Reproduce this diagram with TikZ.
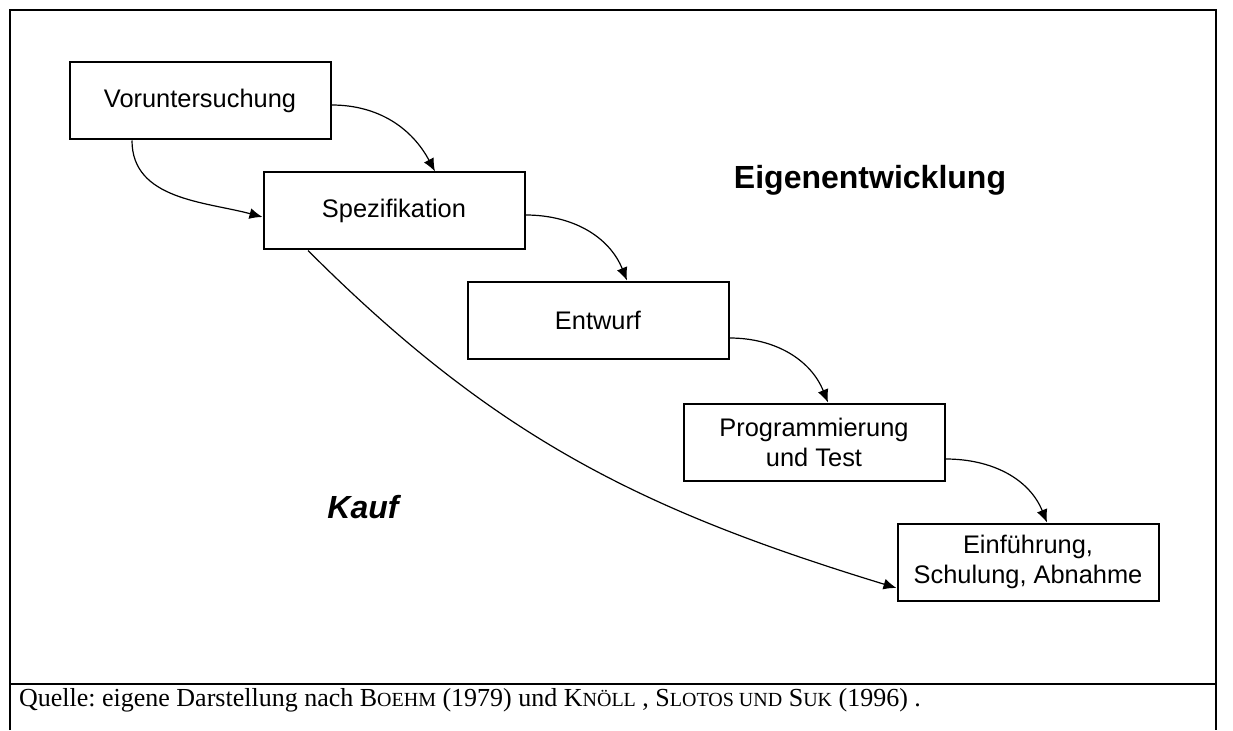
\documentclass[tikz,border=0pt]{standalone}
\usepackage{fontspec}
\setmainfont{Liberation Serif}
\setsansfont{Liberation Sans}
\usetikzlibrary{arrows.meta}
\usetikzlibrary{positioning}
\tikzset{
    phase/.style={
        draw,
        rectangle,
        fill=white,
        line width=1pt,
        minimum width=130.5pt,
        minimum height=38.5pt,
        inner sep=2pt,
        align=center,
        font=\sffamily\fontsize{12.7}{15}\selectfont
    },
    flow/.style={
        draw,
        line width=0.6pt,
        -{Latex[length=6.5pt, width=5.5pt]}
    }
}
\newcommand{\scname}[2]{#1{\fontsize{10}{12}\selectfont #2}}
\frenchspacing

\begin{document}
\begin{tikzpicture}[x=0.5pt, y=0.5pt]
  \tikzset{
    region/.style={
      font=\sffamily\bfseries\fontsize{16}{19}\selectfont
    },
    source/.style={
      anchor=west,
      font=\fontsize{13}{15}\selectfont
    }
  }
  \useasboundingbox (0,0) rectangle (1233,730);

  % outer frame with the source row
  \draw[line width=0.7pt] (10,0) -- (10,720) -- (1216,720) -- (1216,0);
  \draw[line width=0.7pt] (10,46) -- (1216,46);

  % phases of the waterfall
  \node[phase] (vor)  at (200,629) {Voruntersuchung};
  \node[phase] (spez) at (394,519) {Spezifikation};
  \node[phase] (entw) at (598,410) {Entwurf};
  \node[phase] (prog) at (814,288) {Programmierung\\und Test};
  \node[phase] (einf) at (1028,168) {Einführung,\\Schulung, Abnahme};

  % the two ways
  \node[region] (eigen) at (870,550) {Eigenentwicklung};
  \node[region, font=\sffamily\bfseries\itshape\fontsize{16}{19}\selectfont] (kauf) at (363,223) {Kauf};

  % connectors
  \draw[flow] ([yshift=-2pt]vor.east) to[out=0, in=118] ([xshift=20.5pt]spez.north);
  \draw[flow] ([xshift=-34pt]vor.south) to[out=-90, in=165] ([yshift=-3pt]spez.west);
  \draw[flow] ([yshift=-2pt]spez.east) to[out=0, in=112] ([xshift=14.5pt]entw.north);
  \draw[flow] ([yshift=-9pt]entw.east) to[out=0, in=112] ([xshift=7pt]prog.north);
  \draw[flow] ([yshift=-8.5pt]prog.east) to[out=0, in=112] ([xshift=9.5pt]einf.north);
  \draw[flow] ([xshift=-43pt]spez.south) to[out=-45, in=163] ([yshift=-13pt]einf.west);

  % source line
  \node[source] (quelle) at (12,30) {Quelle: eigene Darstellung nach \scname{B}{OEHM} (1979) und \scname{K}{NÖLL} , \scname{S}{LOTOS UND} \scname{S}{UK} (1996) .};
\end{tikzpicture}
\end{document}
